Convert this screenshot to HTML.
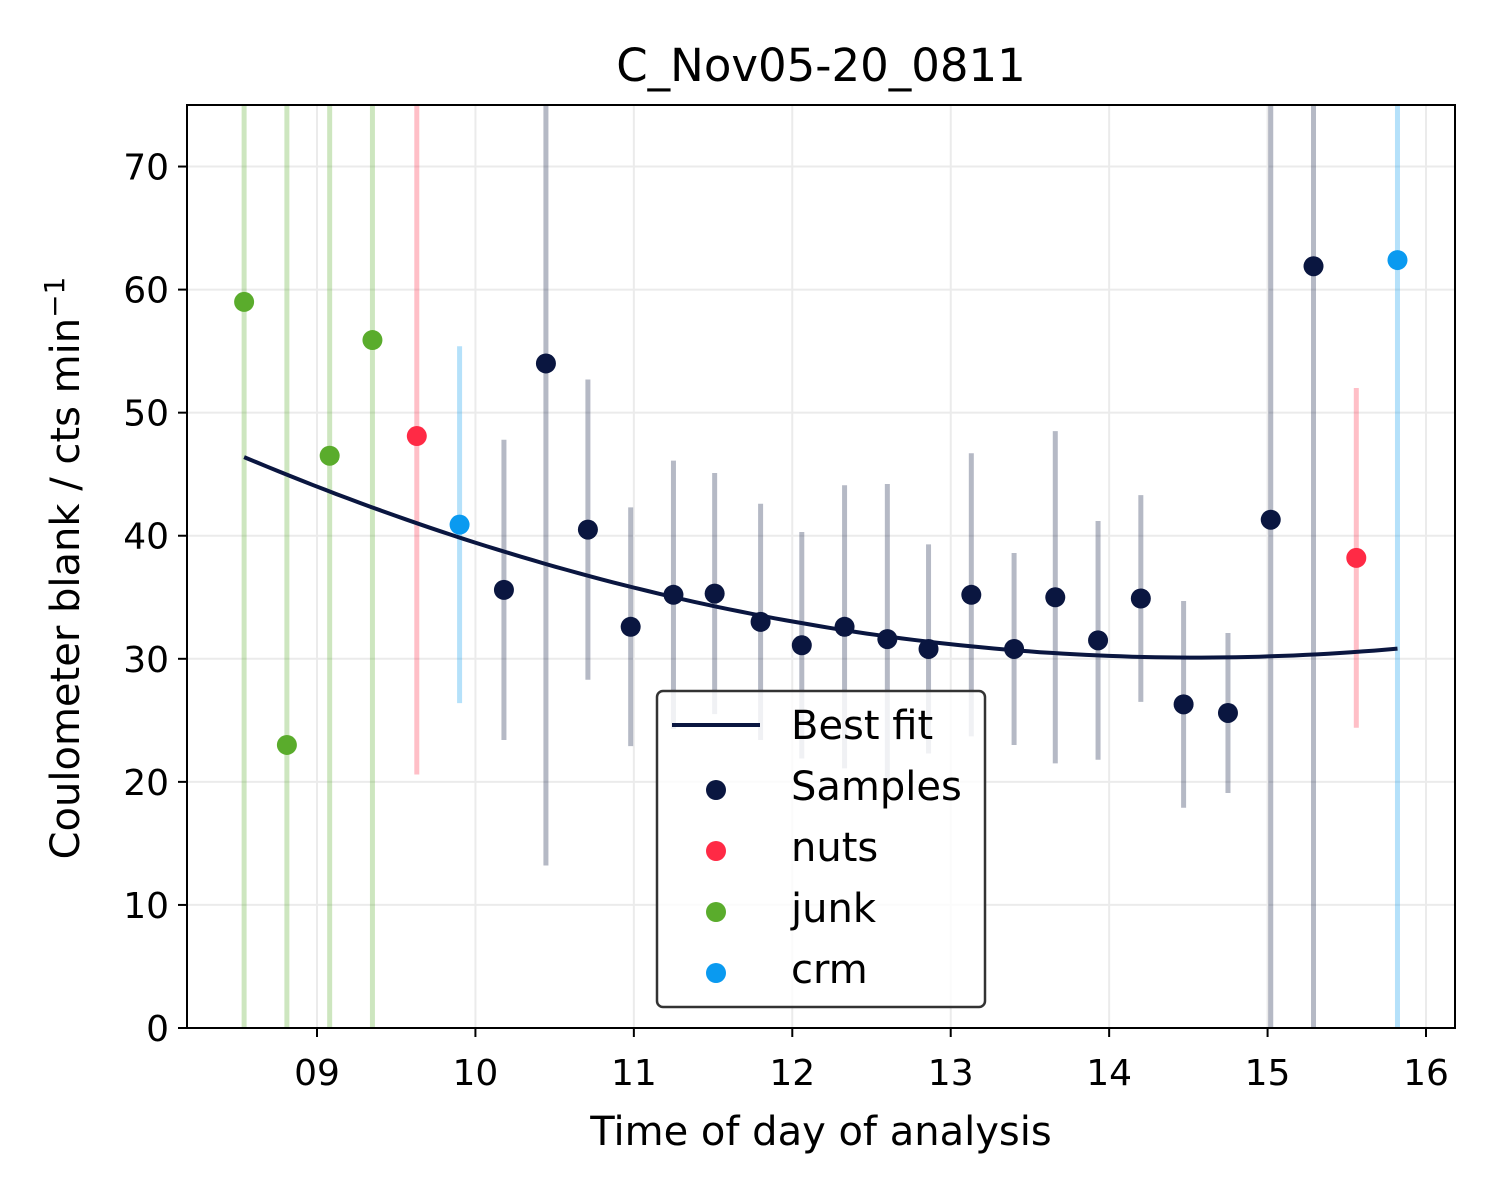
<!DOCTYPE html>
<html><head><meta charset="utf-8"><style>
html,body{margin:0;background:#fff;overflow:hidden;width:1500px;height:1200px;}
svg{display:block;font-family:"DejaVu Sans","Liberation Sans",sans-serif;}
</style></head><body>
<svg id="chart" width="1500" height="1200" xmlns="http://www.w3.org/2000/svg"></svg>
<script>
const sampleX=[10.18,10.445,10.71,10.98,11.25,11.51,11.80,12.06,12.33,12.60,12.86,13.13,13.40,13.66,13.93,14.20,14.47,14.75,15.02,15.29];
const sampleY=[35.6,54,40.5,32.6,35.2,35.3,33.0,31.1,32.6,31.6,30.8,35.2,30.8,35.0,31.5,34.9,26.3,25.6,41.3,61.9];
const sampleErr=[12.2,40.8,12.2,9.7,10.9,9.8,9.6,9.2,11.5,12.6,8.5,11.5,7.8,13.5,9.7,8.4,8.4,6.5,80,80];
const nutsX=[9.63,15.56];
const nutsY=[48.1,38.2];
const nutsErr=[27.5,13.8];
const junkX=[8.54,8.81,9.08,9.35];
const junkY=[59,23,46.5,55.9];
const junkErr=[80,80,80,80];
const crmX=[9.90,15.82];
const crmY=[40.9,62.4];
const crmErr=[14.5,80];
const fitCoef=[0.451,14.55,30.1]; // a*(x-b)^2+c
const fitRange=[8.54,15.82];
const xTicks=[9,10,11,12,13,14,15,16];
const xTickLabels=["09","10","11","12","13","14","15","16"];
const yTicks=[0,10,20,30,40,50,60,70];

const L=187,R=1455,T=105,B=1028;
const xmin=8.1795,xmax=16.183,ymin=0,ymax=75;
const sx=v=>L+(v-xmin)/(xmax-xmin)*(R-L);
const sy=v=>B-(v-ymin)/(ymax-ymin)*(B-T);
const svg=document.getElementById('chart');
const NS='http://www.w3.org/2000/svg';
function mk(tag,attrs,parent){const e=document.createElementNS(NS,tag);for(const k in attrs)e.setAttribute(k,attrs[k]);(parent||svg).appendChild(e);return e;}

const defs=mk('clipPath',{id:'clip'});mk('rect',{x:L,y:T,width:R-L,height:B-T},defs);
xTicks.forEach((t,i)=>{
 const g=mk('line',{x1:sx(t),x2:sx(t),y1:T,y2:B,stroke:'#ebebeb','stroke-width':2});
 
 
 mk('line',{x1:sx(t),x2:sx(t),y1:B,y2:B+9,stroke:'#000','stroke-width':2});
 const tx=mk('text',{x:sx(t),y:B+57,'text-anchor':'middle','font-size':36});tx.textContent=xTickLabels[i];
 
 
});
yTicks.forEach(t=>{
 const g=mk('line',{x1:L,x2:R,y1:sy(t),y2:sy(t),stroke:'#ebebeb','stroke-width':2});
 
 
 mk('line',{x1:L-9,x2:L,y1:sy(t),y2:sy(t),stroke:'#000','stroke-width':2});
 const tx=mk('text',{x:L-18,y:sy(t)+13,'text-anchor':'end','font-size':36});tx.textContent=t;
 
 
});
const clipG=mk('g',{'clip-path':'url(#clip)'});
function series(xs,ys,es,color,name){
 xs.forEach((x,i)=>{
  const e=mk('line',{x1:sx(x),x2:sx(x),y1:sy(ys[i]-es[i]),y2:sy(ys[i]+es[i]),stroke:color,'stroke-width':5,'stroke-opacity':0.3},clipG);
  
  
 });
}
function dots(xs,ys,color,name){
 xs.forEach((x,i)=>{
  const c=mk('circle',{cx:sx(x),cy:sy(ys[i]),r:10,fill:color},clipG);
  
  
 });
}
series(junkX,junkY,junkErr,'#5aac2c','junk');
series(nutsX,nutsY,nutsErr,'#ff2a45','nuts');
series(crmX,crmY,crmErr,'#0a9af0','crm');
series(sampleX,sampleY,sampleErr,'#0a1640','sample');
let d='';
for(let k=0;k<=100;k++){const x=fitRange[0]+(fitRange[1]-fitRange[0])*k/100;const y=fitCoef[0]*(x-fitCoef[1])**2+fitCoef[2];d+=(k?'L':'M')+sx(x).toFixed(1)+','+sy(y).toFixed(1);}
const fit=mk('path',{d:d,fill:'none',stroke:'#0a1640','stroke-width':4},clipG);


dots(sampleX,sampleY,'#0a1640','sample');
dots(nutsX,nutsY,'#ff2a45','nuts');
dots(junkX,junkY,'#5aac2c','junk');
dots(crmX,crmY,'#0a9af0','crm');
const frame=mk('rect',{x:L,y:T,width:R-L,height:B-T,fill:'none',stroke:'#000','stroke-width':2});


const title=mk('text',{x:(L+R)/2,y:81,'text-anchor':'middle','font-size':45});title.textContent='C_Nov05-20_0811';


const xl=mk('text',{x:(L+R)/2,y:1145,'text-anchor':'middle','font-size':40});xl.textContent='Time of day of analysis';


const yl=mk('text',{x:0,y:0,'text-anchor':'middle','font-size':40,transform:'translate(79,568) rotate(-90)'});
yl.innerHTML='Coulometer blank / cts min<tspan dy="-15" font-size="28">−1</tspan>';


const lg=mk('g',{});


mk('rect',{x:657,y:691,width:328,height:316,rx:6,fill:'#fff','fill-opacity':0.8,stroke:'#333','stroke-width':2.5},lg);
mk('line',{x1:672,x2:760,y1:725,y2:725,stroke:'#0a1640','stroke-width':4},lg);
const items=[['Best fit',null],['Samples','#0a1640'],['nuts','#ff2a45'],['junk','#5aac2c'],['crm','#0a9af0']];
items.forEach((it,i)=>{
 const y=725+i*61;
 if(it[1]) mk('circle',{cx:716,cy:y+4,r:10,fill:it[1]},lg);
 const t=mk('text',{x:791,y:y+14,'font-size':40},lg);t.textContent=it[0];
 
 
});
</script>
</body></html>
